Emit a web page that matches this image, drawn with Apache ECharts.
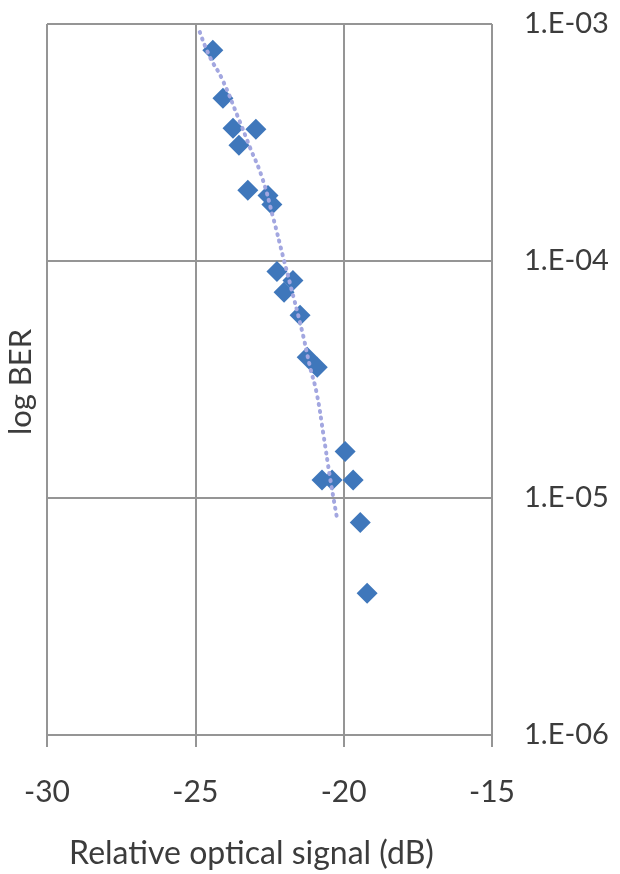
<!DOCTYPE html>
<html>
<head>
<meta charset="utf-8">
<script src="https://cdn.jsdelivr.net/npm/echarts@6/dist/echarts.min.js"></script>
<style>
html,body{margin:0;padding:0;background:#fff;}
#chart{width:620px;height:874px;}
</style>
</head>
<body>
<div id="chart"></div>
<script>
// Measured points: relative optical signal (dB) and BER
const signalDb = [-24.41, -24.07, -23.73, -22.96, -23.53, -23.23, -22.55, -22.42, -22.25, -21.71, -22.01, -21.47, -21.23, -20.89, -19.95, -20.73, -20.39, -19.68, -19.44, -19.21];
const berValues = [7.74e-4, 4.86e-4, 3.63e-4, 3.60e-4, 3.08e-4, 1.99e-4, 1.89e-4, 1.73e-4, 9.04e-5, 8.28e-5, 7.38e-5, 5.90e-5, 3.93e-5, 3.56e-5, 1.57e-5, 1.19e-5, 1.19e-5, 1.19e-5, 7.88e-6, 3.96e-6];
// Trend line (dotted)
const trendDb = [-24.85, -24.51, -24.11, -23.56, -23.16, -22.75, -22.38, -22.04, -21.81, -21.41, -21.13, -20.91, -20.69, -20.46, -20.23];
const trendBer = [9.25e-4, 7.26e-4, 5.90e-4, 4.04e-4, 3.02e-4, 2.25e-4, 1.53e-4, 1.04e-4, 8.05e-5, 5.11e-5, 3.56e-5, 2.77e-5, 1.88e-5, 1.22e-5, 8.30e-6];
// Axis ticks
const xTicks = [-30, -25, -20, -15];
const yTickLabels = {'-3': '1.E-03', '-4': '1.E-04', '-5': '1.E-05', '-6': '1.E-06'};
const xTitle = 'Relative optical signal (dB)';
const yTitle = 'log BER';

const font = 'Lato, "Open Sans", sans-serif';
const textColor = '#3c3c3c';
const gridColor = '#959595';

const chart = echarts.init(document.getElementById('chart'));
chart.setOption({
  animation: false,
  backgroundColor: '#ffffff',
  grid: {left: 47, right: 128, top: 24, bottom: 139, containLabel: false, outerBoundsMode: 'none'},
  graphic: [{
    type: 'text',
    x: 21, y: 382,
    rotation: Math.PI / 2,
    style: {text: yTitle, fontFamily: font, fontSize: 31, fill: textColor, align: 'center', verticalAlign: 'middle'}
  }],
  xAxis: {
    type: 'value',
    min: xTicks[0],
    max: xTicks[xTicks.length - 1],
    interval: 5,
    name: xTitle,
    nameLocation: 'middle',
    nameGap: 103,
    nameTextStyle: {fontFamily: font, fontSize: 32, color: textColor, padding: [0, 36, 0, 0]},
    axisLine: {show: true, lineStyle: {color: gridColor, width: 2}},
    axisTick: {show: true, length: 12, lineStyle: {color: gridColor, width: 2}},
    axisLabel: {fontFamily: font, fontSize: 30, color: textColor, margin: 42},
    splitLine: {show: true, lineStyle: {color: gridColor, width: 2}}
  },
  yAxis: {
    type: 'log',
    logBase: 10,
    min: 1e-6,
    max: 1e-3,
    position: 'right',
    axisLine: {show: false},
    axisTick: {show: false},
    axisLabel: {
      fontFamily: font, fontSize: 29, color: textColor, margin: 32,
      formatter: function (v) {
        const e = Math.round(Math.log10(v));
        return yTickLabels[String(e)] || '';
      }
    },
    splitLine: {show: true, lineStyle: {color: gridColor, width: 2}}
  },
  series: [
    {
      type: 'scatter',
      symbol: 'diamond',
      symbolSize: 21,
      itemStyle: {color: '#3f77bb', opacity: 1},
      data: signalDb.map((x, i) => [x, berValues[i]]),
      z: 2
    },
    {
      type: 'line',
      smooth: true,
      showSymbol: false,
      lineStyle: {color: '#a3a7e0', width: 4, type: [1, 6], cap: 'round', opacity: 1},
      data: trendDb.map((x, i) => [x, trendBer[i]]),
      z: 3
    }
  ]
});
</script>
</body>
</html>
